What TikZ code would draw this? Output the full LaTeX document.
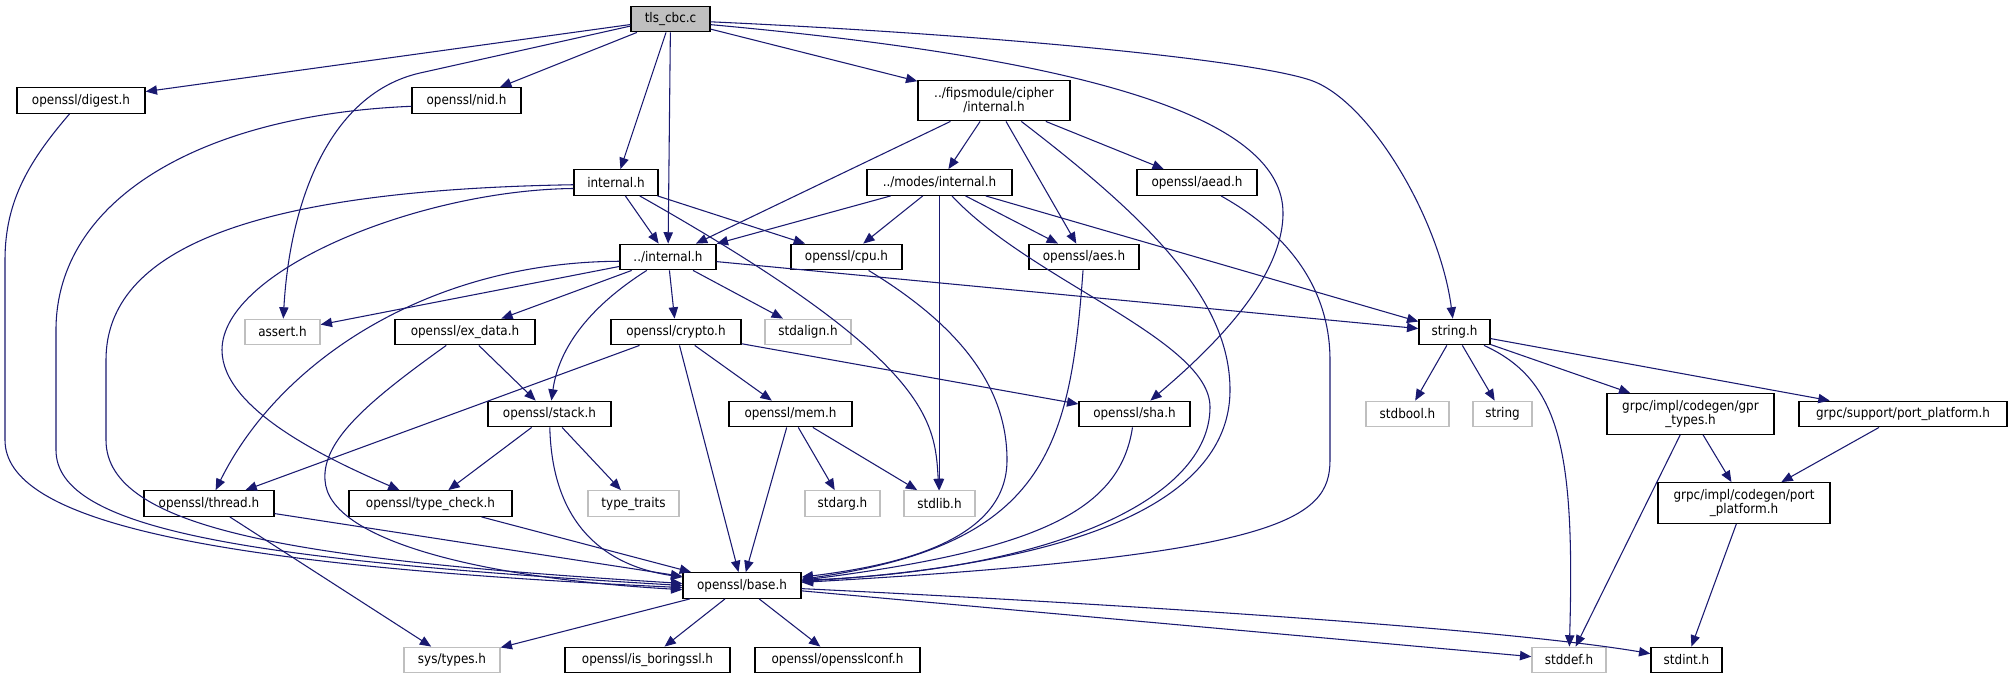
\documentclass[tikz,border=0pt]{standalone}
\usepackage{fontspec}
\setmainfont{DejaVu Sans Condensed}
\usepackage{tikz}
\usetikzlibrary{arrows.meta}

\definecolor{edgeblue}{HTML}{191970}
\definecolor{sysgray}{HTML}{BFBFBF}

\begin{document}
\begin{tikzpicture}[x=0.75pt,y=-0.75pt,font=\fontsize{10}{10.5}\selectfont,
	file/.style={draw=black,line width=1pt,fill=white,inner sep=0pt,minimum height=25.5*0.75pt,align=center},
	sys/.style={file,draw=sysgray},
	root/.style={file,fill=sysgray},
	wd/.style={minimum width=#1*0.75pt},
	tall/.style={minimum height=40.5*0.75pt},
	inc/.style={draw=edgeblue,line width=0.8pt,-{Triangle[length=8.5pt,width=7pt]}}]
	
	\useasboundingbox (0,0) rectangle (2012,679);
	
	\node[root, wd=79] (tls) at (670.5,19) {tls\_cbc.c};
	\node[file, wd=128] (digest) at (81,100.5) {openssl/digest.h};
	\node[file, wd=109] (nid) at (466.5,100.5) {openssl/nid.h};
	\node[file, wd=152, tall] (fips) at (994,100.5) {../fipsmodule/cipher\\/internal.h};
	\node[file, wd=84] (internal) at (616,182.5) {internal.h};
	\node[file, wd=145] (modes) at (939.5,182.5) {../modes/internal.h};
	\node[file, wd=120] (aead) at (1197,182.5) {openssl/aead.h};
	\node[file, wd=96] (dinternal) at (668,257) {../internal.h};
	\node[file, wd=111] (cpu) at (846.5,257) {openssl/cpu.h};
	\node[file, wd=110] (aes) at (1084,257) {openssl/aes.h};
	\node[sys, wd=75] (assert) at (282.5,332) {assert.h};
	\node[file, wd=140] (exdata) at (465,332) {openssl/ex\_data.h};
	\node[file, wd=130] (crypto) at (676,332) {openssl/crypto.h};
	\node[sys, wd=86] (stdalign) at (808,332) {stdalign.h};
	\node[file, wd=71] (string) at (1454.5,332) {string.h};
	\node[file, wd=123] (stack) at (549.5,414) {openssl/stack.h};
	\node[file, wd=123] (mem) at (790.5,414) {openssl/mem.h};
	\node[file, wd=111] (sha) at (1134.5,414) {openssl/sha.h};
	\node[sys, wd=83] (stdbool) at (1407.5,414) {stdbool.h};
	\node[sys, wd=59] (stringstd) at (1502.5,414) {string};
	\node[file, wd=167, tall] (gprtypes) at (1690.5,414) {grpc/impl/codegen/gpr\\\_types.h};
	\node[file, wd=208] (supportpp) at (1903,414) {grpc/support/port\_platform.h};
	\node[file, wd=130] (thread) at (209,503.5) {openssl/thread.h};
	\node[file, wd=163] (typecheck) at (430.5,503.5) {openssl/type\_check.h};
	\node[sys, wd=91] (typetraits) at (633.5,503.5) {type\_traits};
	\node[sys, wd=75] (stdarg) at (842.5,503.5) {stdarg.h};
	\node[sys, wd=71] (stdlib) at (939.5,503.5) {stdlib.h};
	\node[file, wd=172, tall] (codegenpp) at (1744,503) {grpc/impl/codegen/port\\\_platform.h};
	\node[file, wd=118] (base) at (742,585.5) {openssl/base.h};
	\node[sys, wd=96] (systypes) at (452,660) {sys/types.h};
	\node[file, wd=165] (boringssl) at (647.5,660) {openssl/is\_boringssl.h};
	\node[file, wd=165] (opensslconf) at (837.5,660) {openssl/opensslconf.h};
	\node[sys, wd=74] (stddef) at (1569,660) {stddef.h};
	\node[file, wd=71] (stdint) at (1686.5,660) {stdint.h};
	
	\draw[inc] (tls) -- (digest);
	\draw[inc] (tls) -- (nid);
	\draw[inc] (tls.190) -- (420,73) .. controls (330,93.5) and (290,200) .. (assert);
	\draw[inc] (tls) -- (internal);
	\draw[inc] (tls) -- (dinternal);
	\draw[inc] (tls) -- (fips);
	\draw[inc] (tls.-8) .. controls (1100,60) and (1283,120) .. (1283,213) .. controls (1283,280) and (1210,350) .. (sha);
	\draw[inc] (tls.-4) .. controls (1000,35) and (1250,60) .. (1310,80) .. controls (1370,100) and (1440,220) .. (string);
	
	\draw[inc] (digest) .. controls (30,160) and (5,200) .. (5,260) -- (5,440) .. controls (5,520) and (200,565) .. (base.182);
	\draw[inc] (nid.186) .. controls (200,115) and (56,200) .. (56,330) -- (56,450) .. controls (56,530) and (250,560) .. (base.180);
	
	\draw[inc] (fips) -- (dinternal);
	\draw[inc] (fips) -- (modes);
	\draw[inc] (fips) -- (aes);
	\draw[inc] (fips) -- (aead);
	\draw[inc] (fips) .. controls (1150,220) and (1230,300) .. (1230,390) .. controls (1230,480) and (1130,560) .. (base.4);
	
	\draw[inc] (internal) -- (dinternal);
	\draw[inc] (internal) -- (cpu);
	\draw[inc] (internal) .. controls (930,360) and (935,420) .. (stdlib);
	\draw[inc] (internal.183) .. controls (250,190) and (106,250) .. (106,360) -- (106,440) .. controls (106,530) and (300,560) .. (base.178);
	\draw[inc] (internal.188) .. controls (420,190) and (222,270) .. (222,350) .. controls (222,410) and (330,460) .. (typecheck);
	
	\draw[inc] (modes) -- (dinternal);
	\draw[inc] (modes) -- (cpu);
	\draw[inc] (modes) -- (stdlib);
	\draw[inc] (modes) -- (aes);
	\draw[inc] (modes) -- (string);
	\draw[inc] (modes) .. controls (1030,280) and (1210,340) .. (1210,407) .. controls (1210,500) and (1050,570) .. (base.5);
	
	\draw[inc] (aead) .. controls (1300,240) and (1330,300) .. (1330,360) -- (1330,460) .. controls (1330,520) and (1280,555) .. (base.3);
	\draw[inc] (cpu) .. controls (950,320) and (1007,380) .. (1007,460) .. controls (1007,540) and (900,565) .. (base.8);
	\draw[inc] (aes) .. controls (1070,450) and (1045,545) .. (base.6);
	
	\draw[inc] (dinternal) -- (assert);
	\draw[inc] (dinternal) -- (exdata);
	\draw[inc] (dinternal) -- (crypto);
	\draw[inc] (dinternal) -- (stdalign);
	\draw[inc] (dinternal) -- (string);
	\draw[inc] (dinternal) .. controls (600,300) and (560,340) .. (stack);
	\draw[inc] (dinternal.185) .. controls (430,262) and (280,360) .. (thread);
	
	\draw[inc] (exdata) -- (stack);
	\draw[inc] (exdata) .. controls (370,400) and (322,440) .. (325,480) .. controls (328,540) and (480,578) .. (base.184);
	
	\draw[inc] (crypto) -- (thread);
	\draw[inc] (crypto) -- (mem);
	\draw[inc] (crypto) -- (sha);
	\draw[inc] (crypto) -- (base);
	
	\draw[inc] (stack) -- (typecheck);
	\draw[inc] (stack) -- (typetraits);
	\draw[inc] (stack) .. controls (552,520) and (600,565) .. (base.172);
	
	\draw[inc] (mem) -- (stdarg);
	\draw[inc] (mem) -- (stdlib);
	\draw[inc] (mem) -- (base);
	
	\draw[inc] (sha) .. controls (1120,510) and (1040,550) .. (base.5);
	
	\draw[inc] (thread) -- (base);
	\draw[inc] (thread) -- (systypes);
	\draw[inc] (typecheck) -- (base);
	
	\draw[inc] (string) -- (stdbool);
	\draw[inc] (string) -- (stringstd);
	\draw[inc] (string) -- (gprtypes);
	\draw[inc] (string) -- (supportpp);
	\draw[inc] (string) .. controls (1560,380) and (1575,450) .. (stddef);
	
	\draw[inc] (gprtypes) -- (codegenpp);
	\draw[inc] (gprtypes) -- (stddef);
	\draw[inc] (supportpp) -- (codegenpp);
	\draw[inc] (codegenpp) -- (stdint);
	
	\draw[inc] (base) -- (systypes);
	\draw[inc] (base) -- (boringssl);
	\draw[inc] (base) -- (opensslconf);
	\draw[inc] (base) -- (stddef);
	\draw[inc] (base.-3) .. controls (1100,603) and (1500,628) .. (stdint.170);
	
\end{tikzpicture}
\end{document}
